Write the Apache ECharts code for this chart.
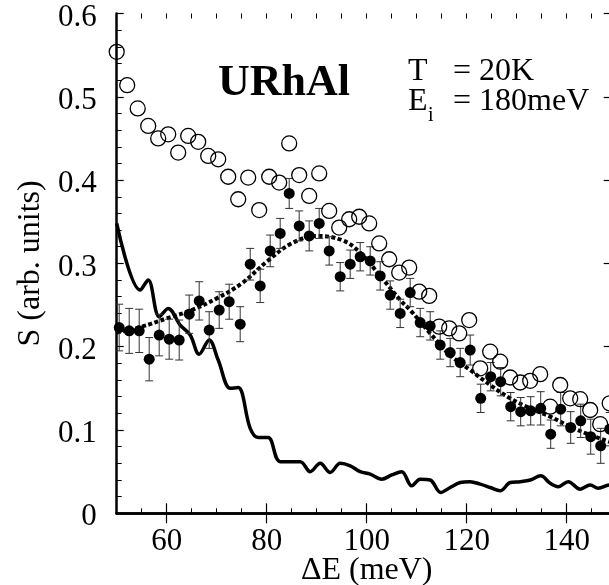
<!DOCTYPE html>
<html>
<head>
<meta charset="utf-8">
<script src="https://cdn.jsdelivr.net/npm/echarts@6/dist/echarts.min.js"></script>
<style>html,body{margin:0;padding:0;background:#fff}#c{width:609px;height:585px}</style>
</head>
<body>
<div id="c"></div>
<script>
// ---- data ----
const xTickLabels = [60, 80, 100, 120, 140];
const yTickLabels = [0, 0.1, 0.2, 0.3, 0.4, 0.5, 0.6];

// open circles: [ΔE, S]
const openPoints = [
  [50.0,0.554],[52.1,0.514],[54.2,0.486],[56.3,0.465],[58.3,0.450],[60.3,0.455],[62.3,0.433],
  [64.3,0.453],[66.3,0.446],[68.3,0.429],[70.3,0.425],[72.3,0.404],[74.3,0.377],[76.3,0.403],
  [78.5,0.364],[80.5,0.404],[82.5,0.397],[84.5,0.444],[86.5,0.406],[88.5,0.381],[90.5,0.408],
  [92.5,0.363],[94.5,0.343],[96.5,0.353],[98.5,0.356],[100.5,0.348],[102.5,0.324],[104.5,0.305],
  [106.5,0.289],[108.5,0.295],[110.5,0.266],[112.5,0.261],[114.5,0.224],[116.5,0.222],[118.5,0.216],
  [120.5,0.232],[122.7,0.174],[124.7,0.194],[126.7,0.182],[128.7,0.163],[130.7,0.157],[132.7,0.159],
  [134.7,0.167],[136.7,0.128],[138.7,0.154],[140.7,0.138],[142.7,0.137],[144.7,0.124],[146.7,0.107],
  [148.6,0.132]
];

// filled circles: [ΔE, S, error]
const filledPoints = [
  [50.5,0.223,0.028],[52.5,0.219,0.027],[54.5,0.219,0.026],[56.5,0.185,0.026],[58.5,0.214,0.025],
  [60.5,0.209,0.024],[62.5,0.208,0.024],[64.5,0.239,0.023],[66.5,0.255,0.023],[68.5,0.220,0.022],
  [70.5,0.244,0.022],[72.5,0.254,0.021],[74.7,0.227,0.021],[76.7,0.299,0.019],[78.7,0.273,0.020],
  [80.7,0.315,0.019],[82.7,0.336,0.018],[84.5,0.384,0.018],[86.5,0.345,0.018],[88.5,0.333,0.018],
  [90.5,0.348,0.018],[92.5,0.315,0.017],[94.7,0.284,0.017],[96.7,0.299,0.017],[98.7,0.308,0.017],
  [100.7,0.303,0.017],[102.7,0.285,0.017],[104.7,0.262,0.017],[106.7,0.240,0.017],[108.7,0.265,0.017],
  [110.7,0.229,0.017],[112.7,0.225,0.017],[114.7,0.202,0.017],[116.7,0.193,0.017],[118.7,0.181,0.017],
  [120.7,0.196,0.018],[122.8,0.138,0.017],[124.8,0.164,0.017],[126.8,0.158,0.017],[128.8,0.128,0.017],
  [130.8,0.122,0.017],[132.8,0.123,0.017],[134.8,0.126,0.020],[136.8,0.095,0.017],[138.8,0.125,0.020],
  [140.8,0.103,0.019],[142.8,0.111,0.020],[144.8,0.092,0.021],[146.8,0.081,0.021],[148.6,0.101,0.020]
];

// dotted fit curve: [ΔE, S]
const fitCurve = [
  [50,0.217],[55,0.224],[60,0.234],[65,0.244],[70,0.258],[75,0.276],[80,0.302],[85,0.324],
  [90,0.333],[95,0.328],[98.5,0.314],[102.7,0.285],[106.7,0.256],[108.7,0.244],[112.7,0.216],
  [116.7,0.190],[120.7,0.172],[124.7,0.154],[128.7,0.138],[132.7,0.126],[136.7,0.116],
  [140.7,0.104],[144.7,0.094],[148.5,0.086],[150,0.083]
];

// solid line: [ΔE, S]
const solidLine = [
  [50,0.348],[54.7,0.268],[56.3,0.280],[58.5,0.236],[60.3,0.246],[62.7,0.226],[64.7,0.214],
  [66.5,0.191],[68.5,0.208],[70.3,0.184],[72.7,0.150],[74.3,0.151],[76.7,0.102],[78.3,0.091],
  [80.3,0.091],[82.7,0.062],[86.7,0.062],[88.7,0.050],[90.7,0.060],[92.7,0.049],[94.7,0.060],
  [96.7,0.057],[98.7,0.050],[100.7,0.047],[103,0.041],[105,0.046],[107,0.050],[109,0.033],
  [110.7,0.041],[112.7,0.040],[114.8,0.025],[116.7,0.031],[118.7,0.037],[120.7,0.038],[122.7,0.035],
  [124.7,0.031],[126.7,0.027],[128.7,0.037],[130.7,0.038],[132.7,0.040],[134.8,0.045],[136.7,0.036],
  [138.3,0.032],[140.3,0.038],[142.7,0.029],[144.7,0.034],[146.3,0.030],[148.6,0.034],[150,0.033]
];

const FONT = '"Liberation Serif", "Times New Roman", serif';

const chart = echarts.init(document.getElementById('c'), null, {renderer: 'canvas'});

const baseX = {min: 50, max: 150, gridIndex: 0, splitLine: {show: false}};
const baseY = {min: 0, max: 0.6, gridIndex: 0, splitLine: {show: false}};

const option = {
  animation: false,
  backgroundColor: '#fff',
  grid: {left: 116.7, top: 13.5, width: 500, height: 499.8, containLabel: false, outerBoundsMode: 'none'},
  xAxis: [
    Object.assign({}, baseX, {
      type: 'value', position: 'bottom', interval: 10,
      axisLine: {show: true, lineStyle: {color: '#000', width: 2.5}},
      axisTick: {show: true, inside: true, length: 10, customValues: xTickLabels, lineStyle: {color: '#000', width: 1.2}},
      axisLabel: {show: true, customValues: xTickLabels, margin: 13, color: '#000', fontFamily: FONT, fontSize: 31},
      name: 'ΔE (meV)', nameLocation: 'middle', nameGap: 41, nameMoveOverlap: false,
      nameTextStyle: {color: '#000', fontFamily: FONT, fontSize: 32}
    }),
    Object.assign({}, baseX, {
      type: 'value', position: 'bottom', interval: 5,
      axisLine: {show: false},
      axisTick: {show: true, inside: true, length: 5, lineStyle: {color: '#000', width: 1}},
      axisLabel: {show: false}
    }),
    Object.assign({}, baseX, {
      type: 'value', position: 'top', interval: 10,
      axisLine: {show: true, lineStyle: {color: '#000', width: 2.5}},
      axisTick: {show: true, inside: true, length: 10, customValues: xTickLabels, lineStyle: {color: '#000', width: 1.2}},
      axisLabel: {show: false}
    }),
    Object.assign({}, baseX, {
      type: 'value', position: 'top', interval: 5,
      axisLine: {show: false},
      axisTick: {show: true, inside: true, length: 5, lineStyle: {color: '#000', width: 1}},
      axisLabel: {show: false}
    })
  ],
  yAxis: [
    Object.assign({}, baseY, {
      type: 'value', position: 'left', interval: 0.1,
      axisLine: {show: true, lineStyle: {color: '#000', width: 2.5}},
      axisTick: {show: true, inside: true, length: 7, lineStyle: {color: '#000', width: 1.2}},
      axisLabel: {show: true, margin: 20, color: '#000', fontFamily: FONT, fontSize: 31,
        formatter: v => '{a|' + (Math.abs(v) < 1e-9 ? '0' : (+v).toFixed(1)) + '}',
        rich: {a: {fontFamily: FONT, fontSize: 31, color: '#000', padding: [8, 0, 0, 0]}}},
      name: 'S (arb. units)', nameLocation: 'middle', nameGap: 70, nameRotate: 90, nameMoveOverlap: false,
      nameTextStyle: {color: '#000', fontFamily: FONT, fontSize: 32}
    }),
    Object.assign({}, baseY, {
      type: 'value', position: 'left', interval: 0.02,
      axisLine: {show: false},
      axisTick: {show: true, inside: true, length: 5, lineStyle: {color: '#000', width: 1}},
      axisLabel: {show: false}
    }),
    Object.assign({}, baseY, {
      type: 'value', position: 'right', interval: 0.1,
      axisLine: {show: true, lineStyle: {color: '#000', width: 2.5}},
      axisTick: {show: true, inside: true, length: 13, lineStyle: {color: '#000', width: 1.2}},
      axisLabel: {show: false}
    })
  ],
  series: [
    {
      type: 'line', data: solidLine, xAxisIndex: 0, yAxisIndex: 0,
      showSymbol: false, symbol: 'none', smooth: 0.35,
      lineStyle: {color: '#000', width: 3.5}, z: 2
    },
    {
      type: 'line', data: fitCurve, xAxisIndex: 0, yAxisIndex: 0,
      showSymbol: false, symbol: 'none', smooth: 0.4,
      lineStyle: {color: '#000', width: 4, type: [4, 2.5], cap: 'butt'}, z: 3
    },
    {
      type: 'custom', xAxisIndex: 0, yAxisIndex: 0, z: 4,
      data: filledPoints,
      renderItem: function (params, api) {
        const x = api.value(0), y = api.value(1), e = api.value(2);
        const top = api.coord([x, y + e]);
        const bot = api.coord([x, y - e]);
        const hw = 4;
        const st = {stroke: '#333', lineWidth: 1};
        return {
          type: 'group',
          children: [
            {type: 'line', shape: {x1: top[0], y1: top[1], x2: bot[0], y2: bot[1]}, style: st},
            {type: 'line', shape: {x1: top[0] - hw, y1: top[1], x2: top[0] + hw, y2: top[1]}, style: st},
            {type: 'line', shape: {x1: bot[0] - hw, y1: bot[1], x2: bot[0] + hw, y2: bot[1]}, style: st}
          ]
        };
      }
    },
    {
      type: 'scatter', data: openPoints, xAxisIndex: 0, yAxisIndex: 0,
      symbol: 'circle', symbolSize: 15, clip: false,
      itemStyle: {color: 'rgba(255,255,255,0)', borderColor: '#000', borderWidth: 1.3, opacity: 1}, z: 5
    },
    {
      type: 'scatter', data: filledPoints.map(p => [p[0], p[1]]), xAxisIndex: 0, yAxisIndex: 0,
      symbol: 'circle', symbolSize: 11, clip: false,
      itemStyle: {color: '#000', opacity: 1}, z: 6
    }
  ],
  graphic: [
    {type: 'text', left: 218, top: 62, style: {text: 'URhAl', font: 'bold 44px ' + FONT, fill: '#000', verticalAlign: 'middle'}},
    {type: 'text', left: 408, top: 56, style: {text: 'T', font: '32px ' + FONT, fill: '#000', verticalAlign: 'middle'}},
    {type: 'text', left: 453, top: 56, style: {text: '= 20K', font: '32px ' + FONT, fill: '#000', verticalAlign: 'middle'}},
    {type: 'text', left: 408, top: 86, style: {text: 'E', font: '32px ' + FONT, fill: '#000', verticalAlign: 'middle'}},
    {type: 'text', left: 428, top: 106, style: {text: 'i', font: '20px ' + FONT, fill: '#000', verticalAlign: 'middle'}},
    {type: 'text', left: 453, top: 86, style: {text: '= 180meV', font: '32px ' + FONT, fill: '#000', verticalAlign: 'middle'}}
  ]
};
chart.setOption(option);
</script>
</body>
</html>
